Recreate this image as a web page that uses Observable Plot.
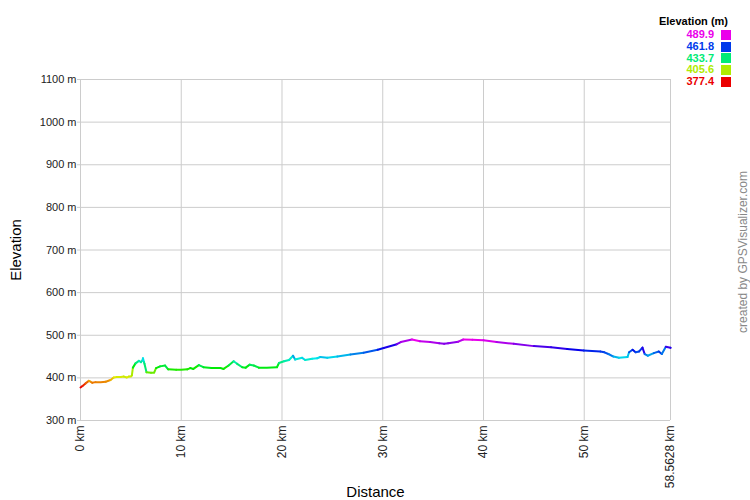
<!DOCTYPE html>
<html><head><meta charset="utf-8">
<script src="https://cdn.jsdelivr.net/npm/d3@7"></script>
<script src="https://cdn.jsdelivr.net/npm/@observablehq/plot@0.6"></script>
<style>
body{margin:0;background:#fff;font-family:"Liberation Sans",Arial,sans-serif;}
#wrap{position:relative;width:750px;height:500px;}
#legend{position:absolute;right:19px;top:15px;text-align:right;font-size:11px;font-weight:bold;}
#legend .ttl{color:#000;margin-bottom:2px;margin-right:3px;}
#legend .row{height:11.8px;line-height:11.8px;display:flex;justify-content:flex-end;align-items:center;}
#legend .sw{display:inline-block;width:10px;height:10px;margin-left:7px;}
</style></head>
<body>
<div id="wrap"><div id="legend"></div></div>
<script>
const distKm = [0.0,0.2,0.5,0.83,1.0,1.16,1.5,2.0,2.5,2.98,3.3,3.6,4.0,4.3,4.6,4.8,5.0,5.1,5.2,5.46,5.8,6.0,6.15,6.2,6.3,6.35,6.55,7.0,7.3,7.5,7.9,8.4,8.7,9.5,10.0,10.6,10.9,11.2,11.75,12.2,13.0,13.9,14.2,14.7,15.2,15.55,16.05,16.4,16.8,17.2,17.7,18.5,19.5,19.7,20.2,20.7,21.1,21.3,22.0,22.3,23.0,23.5,23.8,24.5,25.5,26.8,28.1,29.5,30.1,31.4,31.8,32.9,33.7,34.7,35.6,36.1,36.5,37.5,38.0,38.9,40.0,41.3,43.0,45.0,46.7,48.3,49.95,51.6,52.0,52.4,52.9,53.45,54.3,54.45,54.8,55.1,55.45,55.78,56.0,56.3,56.9,57.4,57.7,58.1,58.5628];
const elevM = [377.4,381,387,393,391,388.5,390,390,391,395,401,402,402,403,401,403,403,406,424,434,440,437,441,446,437,433,413,412,412,423,427,429,420,419,419,420,423,421,430,425,423,423,421,429,439,433,425,424,431,429,424,424,425,435,439,442,452,443,447,442,445,446,449,447,450,455,459,466,470,479,484,489.9,486,484,481,480,481,485,490,489.5,488,484,480,474.5,472,468,464,462,460,456,450,447,449,460,466,460,462,471,456,452,458,462,456,473,470.5];
const xTicks = [0,10,20,30,40,50,58.5628];
const yTicks = [300,400,500,600,700,800,900,1000,1100];
const legendValues = [489.9,461.8,433.7,405.6,377.4];

const data = distKm.map((d,i)=>({d, e: elevM[i]}));
const interp = t => d3.hsl(300*t, 1, 0.46).toString();
const colorDomain = [377.4, 489.9];
const cscale = d3.scaleLinear().domain(colorDomain).range([0,1]);

const chart = Plot.plot({
  width:750, height:500,
  marginLeft:80, marginRight:80, marginTop:79, marginBottom:80,
  style:{fontFamily:"Liberation Sans, Arial, sans-serif", fontSize:"11px", color:"#222", background:"#fff"},
  x:{domain:[0,58.5628]},
  y:{domain:[300,1100]},
  color:{type:"linear", domain:colorDomain, interpolate: interp},
  marks:[
    Plot.gridX(xTicks,{stroke:"#ccc", strokeOpacity:1}),
    Plot.gridY(yTicks,{stroke:"#ccc", strokeOpacity:1}),
    Plot.axisX(xTicks,{tickRotate:-90, tickSize:0, tickPadding:5, tickFormat:d=>d+" km", label:null, fontSize:12}),
    Plot.axisY(yTicks,{tickSize:3, stroke:"#ccc", tickPadding:1, tickFormat:d=>d+" m", label:null}),
    Plot.line(data,{x:"d", y:"e", stroke:"e", z:null, strokeWidth:2}),
    Plot.text(["Elevation"],{frameAnchor:"left", dx:-64, rotate:-90, textAnchor:"middle", fontSize:15, fill:"#000"}),
    Plot.text(["Distance"],{frameAnchor:"bottom", dy:76, textAnchor:"middle", fontSize:15, fill:"#000"}),
    Plot.text(["created by GPSVisualizer.com"],{frameAnchor:"right", dx:73, dy:2, rotate:-90, textAnchor:"middle", fontSize:12, fill:"#888"})
  ]
});
document.getElementById("wrap").prepend(chart);

const lg = document.getElementById("legend");
const t = document.createElement("div"); t.className="ttl"; t.textContent="Elevation (m)"; lg.appendChild(t);
legendValues.forEach(v=>{
  const c = interp(cscale(v));
  const r = document.createElement("div"); r.className="row";
  r.innerHTML = `<span style="color:${c}">${v.toFixed(1)}</span><span class="sw" style="background:${c}"></span>`;
  lg.appendChild(r);
});
</script>
</body></html>
